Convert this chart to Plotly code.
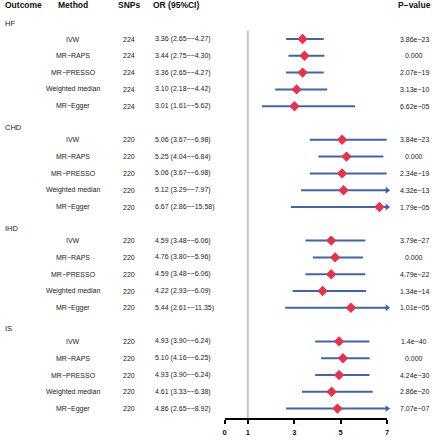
import plotly.graph_objects as go

# ---------------- data ----------------
outcomes = ["HF", "CHD", "IHD", "IS"]
methods = ["IVW", "MR−RAPS", "MR−PRESSO", "Weighted median", "MR−Egger"]
snps = [224, 220, 220, 220]

or_hf = [3.36, 3.44, 3.36, 3.10, 3.01]
lo_hf = [2.65, 2.75, 2.65, 2.18, 1.61]
hi_hf = [4.27, 4.30, 4.27, 4.42, 5.62]
p_hf = ["3.86e−23", "0.000", "2.07e−19", "3.13e−10", "6.62e−05"]

or_chd = [5.06, 5.25, 5.06, 5.12, 6.67]
lo_chd = [3.67, 4.04, 3.67, 3.29, 2.86]
hi_chd = [6.98, 6.84, 6.98, 7.97, 15.58]
p_chd = ["3.84e−23", "0.000", "2.34e−19", "4.32e−13", "1.79e−05"]

or_ihd = [4.59, 4.76, 4.59, 4.22, 5.44]
lo_ihd = [3.48, 3.80, 3.48, 2.93, 2.61]
hi_ihd = [6.06, 5.96, 6.06, 6.09, 11.35]
p_ihd = ["3.79e−27", "0.000", "4.79e−22", "1.34e−14", "1.01e−05"]

or_is = [4.93, 5.10, 4.93, 4.61, 4.86]
lo_is = [3.90, 4.16, 3.90, 3.33, 2.65]
hi_is = [6.24, 6.25, 6.24, 6.38, 8.92]
p_is = ["1.4e−40", "0.000", "4.24e−30", "2.86e−20", "7.07e−07"]

x_ticks = [0, 1, 3, 5, 7]
x_max = 7
ref_line = 1

# ---------------- layout geometry ----------------
W, H = 433, 440
row_px = 16.8
first_row_px = 39.0
axis_px = 418.0
x0_px, x1_px = 224.7, 388.7

r_top = 1 - first_row_px / row_px
r_bot = 1 + (axis_px - first_row_px) / row_px

groups = [
    (or_hf, lo_hf, hi_hf, p_hf),
    (or_chd, lo_chd, hi_chd, p_chd),
    (or_ihd, lo_ihd, hi_ihd, p_ihd),
    (or_is, lo_is, hi_is, p_is),
]

BLUE = "#3D64B1"
RED = "#E8324B"
TXT = "#222222"
FONT = "Liberation Sans, Arial, sans-serif"

line_x, line_y = [], []
pt_x, pt_y = [], []
arr_x, arr_y = [], []
annotations = []


def txt(xpx, r, s, anchor="center", size=7, bold=False):
    annotations.append(dict(
        x=xpx / W, xref="paper", y=r, yref="y", text=s, showarrow=False,
        xanchor=anchor, yanchor="middle",
        font=dict(family=FONT, size=size, color="#111111" if bold else TXT,
                  weight="bold" if bold else "normal"),
    ))


# headers
txt(1, -1, "Outcome", "left", 8.5, True)
txt(72, -1, "Method", "center", 8.5, True)
txt(128, -1, "SNPs", "center", 8.5, True)
txt(150, -1, "OR (95%CI)", "left", 8.5, True)
txt(416, -1, "P−value", "center", 8.5, True)

for g, (name, (ors, los, his, ps)) in enumerate(zip(outcomes, groups)):
    rg = g * 6
    txt(1, rg + (0.05 if g == 0 else 0.25), name, "left", 7.5)
    for j in range(5):
        r = rg + 1 + j
        txt(72, r, methods[j], "center", 7)
        txt(128, r, str(snps[g]), "center", 7)
        txt(152, r, f"{ors[j]:.2f} ({los[j]:.2f}−−{his[j]:.2f})", "left", 7)
        txt(416, r, ps[j], "center", 7)
        hi_c = min(his[j], x_max)
        line_x += [los[j], hi_c, None]
        line_y += [r, r, None]
        pt_x.append(ors[j])
        pt_y.append(r)
        if his[j] > x_max:
            arr_x.append(x_max)
            arr_y.append(r)

fig = go.Figure()
fig.add_trace(go.Scatter(x=line_x, y=line_y, mode="lines",
                         line=dict(color=BLUE, width=2), cliponaxis=False,
                         hoverinfo="skip"))
fig.add_trace(go.Scatter(x=arr_x, y=arr_y, mode="markers",
                         marker=dict(symbol="triangle-right", size=6, color=BLUE),
                         cliponaxis=False))
fig.add_trace(go.Scatter(x=pt_x, y=pt_y, mode="markers",
                         marker=dict(symbol="diamond", size=8, color=RED,
                                     line=dict(width=0)),
                         cliponaxis=False))

fig.add_shape(type="line", xref="x", yref="y", x0=ref_line, x1=ref_line,
              y0=0.5, y1=r_bot, line=dict(color="#C8C8C8", width=2), layer="below")

fig.update_layout(
    width=W, height=H,
    margin=dict(l=0, r=0, t=0, b=0),
    paper_bgcolor="white", plot_bgcolor="white",
    showlegend=False,
    annotations=annotations,
    xaxis=dict(domain=[x0_px / W, x1_px / W], range=[0, x_max],
               tickvals=x_ticks, ticktext=[str(t) for t in x_ticks],
               ticks="outside", ticklen=4, tickwidth=1.5, tickcolor="black",
               showline=True, linecolor="black", linewidth=1.5,
               showgrid=False, zeroline=False, ticklabelstandoff=2,
               tickfont=dict(family=FONT, size=7.5, color="#111111", weight="bold"),
               fixedrange=True),
    yaxis=dict(domain=[(H - axis_px) / H, 1], range=[r_bot, r_top],
               visible=False, showgrid=False, zeroline=False, fixedrange=True),
)

fig.write_html(
    "out.html",
    config={"displayModeBar": False},
    post_script="document.body.style.margin='0';document.body.style.padding='0';"
                "document.body.style.overflow='hidden';",
)
